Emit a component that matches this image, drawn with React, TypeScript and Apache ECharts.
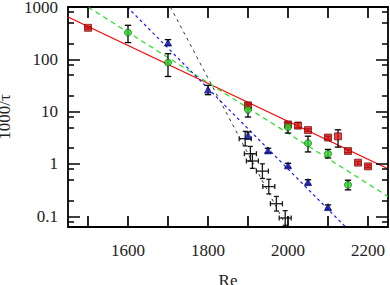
import React, { useEffect, useRef } from "react";
import * as echarts from "echarts";

// Axis extents and tick positions
const xMin = 1450;
const xMax = 2250;
const yMin = 0.0625;
const yMax = 1000;
const xTicks = [1500, 1600, 1700, 1800, 1900, 2000, 2100, 2200];
const xLabels = [1600, 1800, 2000, 2200];
const yMajorTicks = [0.1, 1, 10, 100, 1000];
const yMinorTicks = [0.08, 0.2, 0.5, 0.8, 2, 5, 8, 20, 50, 80, 200, 500, 800];

// Red squares
const redX = [1500, 1900, 2000, 2025, 2050, 2100, 2125, 2150, 2175, 2200];
const redY = [400, 13.2, 5.7, 5.4, 4.45, 3.2, 3.37, 1.77, 1.06, 0.9];
const redLo = [380, 12.0, 5.3, 4.9, 4.2, 3.0, 2.1, 1.65, 1.0, 0.85];
const redHi = [420, 14.6, 6.1, 6.2, 4.7, 3.4, 4.5, 1.9, 1.12, 0.95];

// Green circles
const greenX = [1600, 1700, 1900, 2000, 2050, 2100, 2150];
const greenY = [325, 86.5, 10.9, 5.08, 2.5, 1.57, 0.4];
const greenLo = [209, 47, 7.9, 3.9, 1.7, 1.3, 0.32];
const greenHi = [447, 128, 13.5, 6.3, 3.4, 1.9, 0.49];

// Blue triangles
const blueX = [1700, 1800, 1900, 1950, 2000, 2050, 2100];
const blueY = [209, 26.4, 3.5, 1.82, 0.94, 0.45, 0.15];
const blueLo = [185, 21.1, 3.0, 1.65, 0.86, 0.41, 0.135];
const blueHi = [238, 31.8, 4.1, 2.0, 1.03, 0.5, 0.165];

// Black crosses
const crossX = [1893, 1906, 1911, 1936, 1952, 1971, 1993];
const crossY = [3.05, 1.57, 1.14, 0.73, 0.37, 0.174, 0.093];
const crossXErr = [15, 15, 15, 15, 15, 15, 15];
const crossYFactor = [1.38, 1.38, 1.38, 1.38, 1.38, 1.38, 1.38];

// Fit lines
const redFitX = [1450, 2250];
const redFitY = [644, 0.81];
const greenFitX = [1500, 2250];
const greenFitY = [1000, 0.24];
const blueFitX = [1598, 2144];
const blueFitY = [1000, 0.0625];
const blackFitX = [1706, 1997];
const blackFitY = [1000, 0.0625];

const FONT = "Liberation Serif";

// tick lengths, in data units of the perpendicular axis
const yMajorLen = 30; // x-units (~12px)
const yMinorLen = 15; // x-units (~6px)
const xTickFactor = 1.62; // y-factor (~11px on log axis)

function zip(xs: number[], ys: number[]) {
  return xs.map((x, i) => [x, ys[i]]);
}

function errorBarSeries(xs: number[], lo: number[], hi: number[]) {
  return {
    type: "custom",
    z: 3,
    encode: { x: 0, y: [1, 2] },
    data: xs.map((x, i) => [x, lo[i], hi[i]]),
    renderItem: (params: any, api: any) => {
      const x = api.value(0);
      const p1 = api.coord([x, api.value(1)]);
      const p2 = api.coord([x, api.value(2)]);
      const w = 3.2;
      return {
        type: "group",
        children: [
          { type: "line", shape: { x1: p1[0], y1: p1[1], x2: p2[0], y2: p2[1] }, style: { stroke: "#000", lineWidth: 1.3 } },
          { type: "line", shape: { x1: p1[0] - w, y1: p1[1], x2: p1[0] + w, y2: p1[1] }, style: { stroke: "#000", lineWidth: 1.3 } },
          { type: "line", shape: { x1: p2[0] - w, y1: p2[1], x2: p2[0] + w, y2: p2[1] }, style: { stroke: "#000", lineWidth: 1.3 } },
        ],
      };
    },
  };
}

function tickSegments() {
  const segs: any[] = [];
  yMajorTicks.forEach((v) => {
    segs.push({ coords: [[xMin, v], [xMin + yMajorLen, v]] });
    segs.push({ coords: [[xMax - yMajorLen, v], [xMax, v]] });
  });
  yMinorTicks.forEach((v) => {
    segs.push({ coords: [[xMin, v], [xMin + yMinorLen, v]] });
    segs.push({ coords: [[xMax - yMinorLen, v], [xMax, v]] });
  });
  xTicks.forEach((v) => {
    segs.push({ coords: [[v, yMin], [v, yMin * xTickFactor]] });
    segs.push({ coords: [[v, yMax / xTickFactor], [v, yMax]] });
  });
  return segs;
}

const frameLine = { show: true, lineStyle: { color: "#000", width: 1.8 } };

export default function App() {
  const ref = useRef<HTMLDivElement>(null);
  useEffect(() => {
    if (!ref.current) return;
    const chart = echarts.init(ref.current, null, { renderer: "svg" });
    const option: any = {
      animation: false,
      grid: { left: 68, right: 2, top: 7, bottom: 58, outerBoundsMode: "none" },
      xAxis: [
        {
          type: "value",
          position: "bottom",
          min: xMin,
          max: xMax,
          axisLine: frameLine,
          axisTick: { show: false },
          splitLine: { show: false },
          axisLabel: {
            margin: 15,
            fontFamily: FONT,
            fontSize: 17,
            color: "#222",
            customValues: xLabels,
            formatter: (v: number) => String(v),
          },
          name: "Re",
          nameLocation: "middle",
          nameGap: 45,
          nameTextStyle: { fontFamily: FONT, fontSize: 17, color: "#222" },
        },
        {
          type: "value",
          position: "top",
          min: xMin,
          max: xMax,
          axisLine: frameLine,
          axisTick: { show: false },
          splitLine: { show: false },
          axisLabel: { show: false },
        },
      ],
      yAxis: [
        {
          type: "log",
          logBase: 10,
          position: "left",
          min: yMin,
          max: yMax,
          axisLine: frameLine,
          axisTick: { show: false },
          splitLine: { show: false },
          minorTick: { show: false },
          axisLabel: {
            margin: 10,
            fontFamily: FONT,
            fontSize: 17,
            color: "#222",
            customValues: yMajorTicks,
            formatter: (v: number) => String(Number(v.toPrecision(3))),
          },
          name: "1000/τ",
          nameLocation: "middle",
          nameGap: 48,
          nameRotate: 90,
          nameTextStyle: { fontFamily: FONT, fontSize: 17, color: "#222" },
        },
        {
          type: "log",
          logBase: 10,
          position: "right",
          min: yMin,
          max: yMax,
          axisLine: frameLine,
          axisTick: { show: false },
          splitLine: { show: false },
          minorTick: { show: false },
          axisLabel: { show: false },
        },
      ],
      series: [
        {
          type: "lines",
          coordinateSystem: "cartesian2d",
          z: 7,
          data: tickSegments(),
          lineStyle: { color: "#000", width: 1.7, opacity: 1 },
        },
        // fit lines
        {
          type: "line",
          data: zip(redFitX, redFitY),
          symbol: "none",
          lineStyle: { color: "#ff0000", width: 1.2 },
          z: 2,
        },
        {
          type: "line",
          data: zip(greenFitX, greenFitY),
          symbol: "none",
          lineStyle: { color: "#22dd22", width: 1.2, type: [5, 4] },
          z: 2,
        },
        {
          type: "line",
          data: zip(blueFitX, blueFitY),
          symbol: "none",
          lineStyle: { color: "#1a1aff", width: 1.2, type: [3, 3] },
          z: 2,
        },
        {
          type: "line",
          data: zip(blackFitX, blackFitY),
          symbol: "none",
          lineStyle: { color: "#333", width: 1.0, type: [3, 4] },
          z: 2,
        },
        // error bars
        errorBarSeries(redX, redLo, redHi),
        errorBarSeries(greenX, greenLo, greenHi),
        errorBarSeries(blueX, blueLo, blueHi),
        // crosses
        {
          type: "custom",
          z: 4,
          encode: { x: 0, y: 1 },
          data: crossX.map((x, i) => [x, crossY[i], crossXErr[i], crossYFactor[i]]),
          renderItem: (params: any, api: any) => {
            const x = api.value(0);
            const y = api.value(1);
            const dx = api.value(2);
            const f = api.value(3);
            const l = api.coord([x - dx, y]);
            const r = api.coord([x + dx, y]);
            const t = api.coord([x, y * f]);
            const b = api.coord([x, y / f]);
            const c = 2.5;
            const mk = (x1: number, y1: number, x2: number, y2: number) => ({
              type: "line",
              shape: { x1, y1, x2, y2 },
              style: { stroke: "#1a1a1a", lineWidth: 1.3 },
            });
            return {
              type: "group",
              children: [
                mk(l[0], l[1], r[0], r[1]),
                mk(t[0], t[1], b[0], b[1]),
                mk(l[0], l[1] - c, l[0], l[1] + c),
                mk(r[0], r[1] - c, r[0], r[1] + c),
                mk(t[0] - c, t[1], t[0] + c, t[1]),
                mk(b[0] - c, b[1], b[0] + c, b[1]),
              ],
            };
          },
        },
        // markers
        {
          type: "scatter",
          data: zip(redX, redY),
          symbol: "rect",
          symbolSize: 7,
          itemStyle: { color: "#ee1111", borderColor: "#550000", borderWidth: 0.8 },
          z: 6,
        },
        {
          type: "scatter",
          data: zip(greenX, greenY),
          symbol: "circle",
          symbolSize: 7,
          itemStyle: { color: "#22dd22", borderColor: "#114411", borderWidth: 0.8 },
          z: 6,
        },
        {
          type: "scatter",
          data: zip(blueX, blueY),
          symbol: "triangle",
          symbolSize: 7,
          itemStyle: { color: "#1a1acc", borderColor: "#000044", borderWidth: 0.8 },
          z: 6,
        },
      ],
    };
    chart.setOption(option);
    return () => chart.dispose();
  }, []);
  return (
    <div
      ref={ref}
      style={{ position: "fixed", left: 0, top: 0, width: 390, height: 285, background: "#fff" }}
    />
  );
}
